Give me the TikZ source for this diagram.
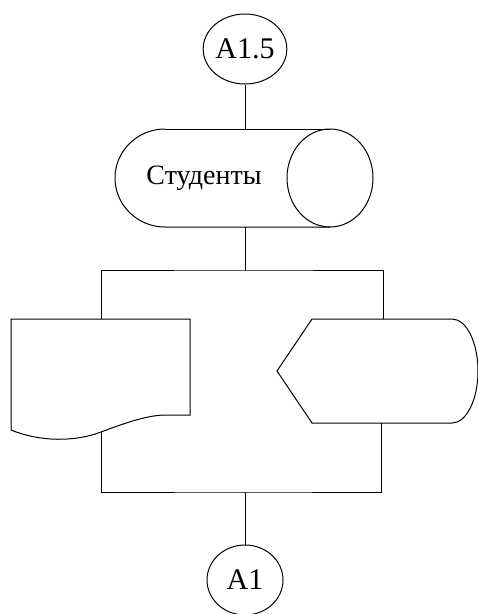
\documentclass[tikz,border=0pt]{standalone}
\usepackage{fontspec}
\setmainfont{Liberation Serif}
\usetikzlibrary{shapes.geometric}

\tikzset{
  conn/.style={draw,ellipse,inner sep=0pt,minimum width=76pt,minimum height=70pt,font=\fontsize{30}{33}\selectfont},
  lbl/.style={font=\fontsize{28}{32}\selectfont,inner sep=0pt}
}

\begin{document}
\begin{tikzpicture}[x=1pt,y=1pt,line width=1pt]
\useasboundingbox (0,0) rectangle (478,-614);
% connectors at the ends
\node[conn] (ain) at (245,-49) {A1.5};
\node[conn] (aout) at (245,-580) {A1};
% stored data
\coordinate (dbtop) at (245,-129);
\coordinate (dbbot) at (245,-227);
\draw (165,-129) arc[start angle=90,end angle=270,x radius=50,y radius=49] -- (330,-227);
\draw (165,-129) -- (330,-129);
\draw (330,-178) ellipse[x radius=43,y radius=49];
\node[lbl] (stud) at (204,-178) {Студенты};
% document
\coordinate (doctop) at (101,-319);
\coordinate (docbot) at (101,-432);
\draw (11,-319) -- (190,-319) -- (190,-415) -- (166,-415)
  .. controls (150,-415) and (130,-421) .. (101,-432)
  .. controls (75,-442) and (40,-442) .. (11,-430) -- cycle;
% display
\coordinate (distop) at (383,-319);
\coordinate (disbot) at (381,-423);
\draw (312,-319) -- (452,-319) arc[start angle=90,end angle=-90,x radius=26,y radius=52]
  -- (312,-423) -- (277,-371) -- cycle;
% branch and join
\coordinate (split) at (245,-270);
\coordinate (join) at (245,-492);
\draw (ain) -- (dbtop);
\draw (dbbot) -- (split);
\draw (doctop) |- (split) -| (distop);
\draw (docbot) |- (join) -| (disbot);
\draw (join) -- (aout);
\end{tikzpicture}
\end{document}
